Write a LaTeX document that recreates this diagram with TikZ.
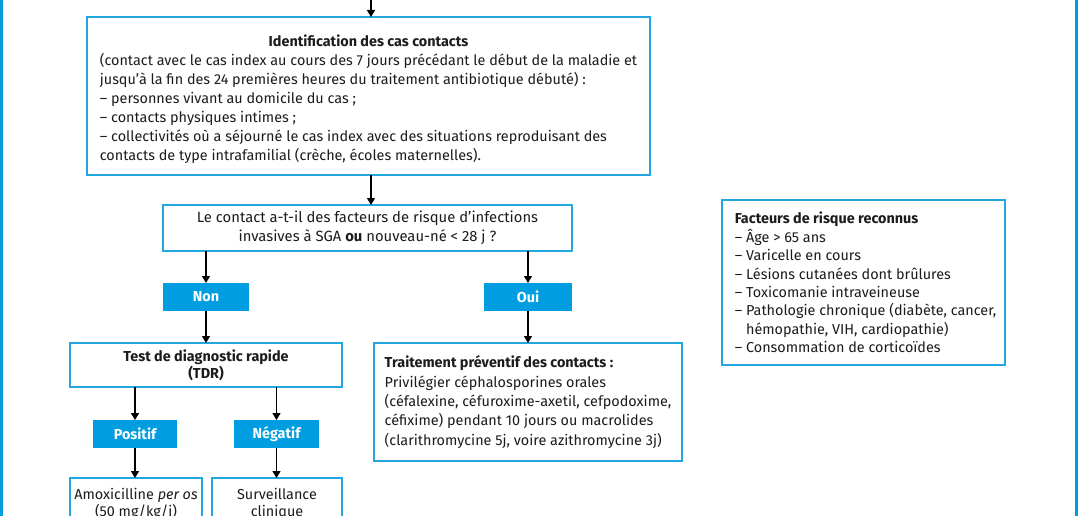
\documentclass[tikz,border=0pt]{standalone}
\usepackage{fontspec}
\setmainfont{Fira Sans}
\usetikzlibrary{arrows.meta}
\definecolor{frameblue}{RGB}{0,157,222}
\definecolor{boxblue}{RGB}{35,167,224}
\definecolor{flagblue}{RGB}{0,158,224}
\definecolor{ink}{RGB}{30,27,28}
\begin{document}
\begin{tikzpicture}[x=1pt,y=-1pt,
  every node/.style={text=ink, font=\fontsize{14.4}{19}\selectfont},
  box/.style={draw=boxblue, line width=1.6pt, fill=white, inner sep=0pt, outer sep=0pt},
  flag/.style={fill=flagblue, text=white, inner sep=0pt, outer sep=0pt, minimum height=28pt,
    font=\fontsize{14.4}{19}\selectfont\bfseries},
  arr/.style={draw=black, line width=1.2pt, -{Triangle[length=7pt,width=8pt]}},
  frame/.style={draw=frameblue, line width=2.6pt}]
\useasboundingbox (0,0) rectangle (1078,516);
\clip (0,0) rectangle (1078,516);
\fill[white] (0,0) rectangle (1078,516);
\draw[frame] (1.3,-5) -- (1.3,521);
\draw[frame] (1076.2,-5) -- (1076.2,521);

\coordinate (top) at (371,0);

\node[box, minimum width=563pt, minimum height=158pt] (ident) at (368.5,96)
 {\raisebox{-4pt}[\height][\depth]{\begin{tabular}{@{}l@{}}
  \multicolumn{1}{@{}c@{}}{\bfseries Identification des cas contacts}\\
  (contact avec le cas index au cours des 7 jours précédant le début de la maladie et\\
  jusqu’à la fin des 24 premières heures du traitement antibiotique débuté) :\\
  – personnes vivant au domicile du cas ;\\
  – contacts physiques intimes ;\\
  – collectivités où a séjourné le cas index avec des situations reproduisant des\\
  contacts de type intrafamilial (crèche, écoles maternelles).
  \end{tabular}}};

\node[box, minimum width=409pt, minimum height=46pt, align=center, font=\fontsize{14.8}{18.5}\selectfont] (quest) at (367.5,228)
 {Le contact a-t-il des facteurs de risque d’infections\\
  invasives à SGA \textbf{ou} nouveau-né < 28 j ?};

\node[flag, minimum width=86pt] (non) at (206,297) {Non};
\node[flag, minimum width=88pt] (oui) at (528,297) {Oui};

\node[box, minimum width=272pt, minimum height=44pt, align=center, font=\fontsize{14.4}{17}\selectfont\bfseries] (tdr) at (206,365)
 {Test de diagnostic rapide\\(TDR)};

\node[box, minimum width=308pt, minimum height=118pt, align=left, font=\fontsize{14.4}{19.3}\selectfont] (trait) at (528,402)
 {\textbf{Traitement préventif des contacts :}\\
  Privilégier céphalosporines orales\\
  (céfalexine, céfuroxime-axetil, cefpodoxime,\\
  céfixime) pendant 10 jours ou macrolides\\
  (clarithromycine 5j, voire azithromycine 3j)};

\node[flag, minimum width=84pt] (pos) at (135,434) {Positif};
\node[flag, minimum width=85pt] (neg) at (276.5,434) {Négatif};

\node[box, minimum width=132pt, minimum height=50pt, align=center, anchor=north, font=\fontsize{14.4}{17.5}\selectfont] (amox) at (136,478)
 {\rule{0pt}{13pt}Amoxicilline \emph{per os}\\(50 mg/kg/j)};
\node[box, minimum width=130pt, minimum height=50pt, align=center, anchor=north, font=\fontsize{14.4}{17.5}\selectfont] (surv) at (277,478)
 {\rule{0pt}{13pt}Surveillance\\clinique};

\node[box, minimum width=283pt, minimum height=165pt, align=left, font=\fontsize{14.4}{18.4}\selectfont] (fact) at (863.5,282.5)
 {\hspace*{2pt}\raisebox{-2pt}[\height][\depth]{\begin{tabular}{@{}l@{}}
  \textbf{Facteurs de risque reconnus}\\
  – Âge > 65 ans\\
  – Varicelle en cours\\
  – Lésions cutanées dont brûlures\\
  – Toxicomanie intraveineuse\\
  – Pathologie chronique (diabète, cancer,\\
  \phantom{– }hémopathie, VIH, cardiopathie)\\
  – Consommation de corticoïdes
  \end{tabular}}\hspace*{-2pt}};

\draw[arr] (top) -- (top |- ident.north);
\draw[arr] (top |- ident.south) -- (top |- quest.north);
\draw[arr] (quest.south -| non) -- (non.north);
\draw[arr] (quest.south -| oui) -- (oui.north);
\draw[arr] (non.south) -- (non.south |- tdr.north);
\draw[arr] (oui.south) -- (oui.south |- trait.north);
\draw[arr] (tdr.south -| pos) -- (pos.north);
\draw[arr] (tdr.south -| neg) -- (neg.north);
\draw[arr] (pos.south) -- (pos.south |- amox.north);
\draw[arr] (neg.south) -- (neg.south |- surv.north);
\end{tikzpicture}
\end{document}
